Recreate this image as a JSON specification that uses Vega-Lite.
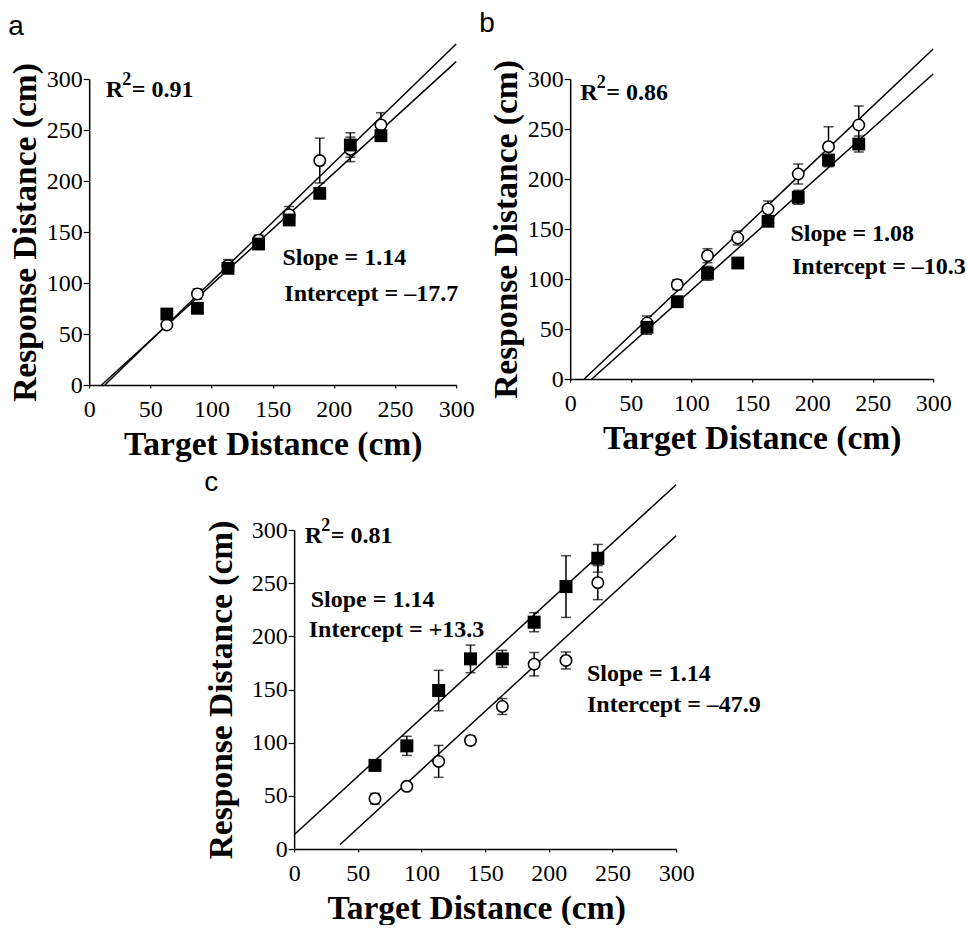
{
  "$schema": "https://vega.github.io/schema/vega-lite/v6.json",
  "background": "white",
  "padding": {"left": 8, "top": 10, "right": 0, "bottom": 0},
  "datasets": {
    "pts": [
      {"panel": "a", "group": "open", "x": 63.5, "y": 58.8, "lo": 55.8, "hi": 61.8},
      {"panel": "a", "group": "open", "x": 88.5, "y": 89.2, "lo": 84.2, "hi": 94.2},
      {"panel": "a", "group": "open", "x": 113.5, "y": 117, "lo": 111, "hi": 123},
      {"panel": "a", "group": "open", "x": 138.5, "y": 142, "lo": 137, "hi": 147},
      {"panel": "a", "group": "open", "x": 163.5, "y": 167, "lo": 159, "hi": 175},
      {"panel": "a", "group": "open", "x": 188.5, "y": 220, "lo": 198, "hi": 242},
      {"panel": "a", "group": "open", "x": 213.5, "y": 231, "lo": 219, "hi": 243},
      {"panel": "a", "group": "open", "x": 238.5, "y": 255, "lo": 243, "hi": 267},
      {"panel": "a", "group": "filled", "x": 63.5, "y": 69.6, "lo": 66.6, "hi": 72.6},
      {"panel": "a", "group": "filled", "x": 88.5, "y": 75.2, "lo": 72.2, "hi": 78.2},
      {"panel": "a", "group": "filled", "x": 113.5, "y": 114.4, "lo": 109.4, "hi": 119.4},
      {"panel": "a", "group": "filled", "x": 138.5, "y": 138.2, "lo": 134.2, "hi": 142.2},
      {"panel": "a", "group": "filled", "x": 163.5, "y": 161.8, "lo": 156.8, "hi": 166.8},
      {"panel": "a", "group": "filled", "x": 188.5, "y": 187.9, "lo": 182.9, "hi": 192.9},
      {"panel": "a", "group": "filled", "x": 213.5, "y": 235.3, "lo": 223.3, "hi": 247.3},
      {"panel": "a", "group": "filled", "x": 238.5, "y": 244.4, "lo": 240.4, "hi": 248.4},
      {"panel": "b", "group": "open", "x": 63.5, "y": 56, "lo": 49, "hi": 63},
      {"panel": "b", "group": "open", "x": 88.5, "y": 94.3, "lo": 89.3, "hi": 99.3},
      {"panel": "b", "group": "open", "x": 113.5, "y": 123.3, "lo": 116.3, "hi": 130.3},
      {"panel": "b", "group": "open", "x": 138.5, "y": 141, "lo": 134, "hi": 148},
      {"panel": "b", "group": "open", "x": 163.5, "y": 170, "lo": 162, "hi": 178},
      {"panel": "b", "group": "open", "x": 188.5, "y": 205, "lo": 195, "hi": 215},
      {"panel": "b", "group": "open", "x": 213.5, "y": 232.3, "lo": 212.3, "hi": 252.3},
      {"panel": "b", "group": "open", "x": 238.5, "y": 254, "lo": 235, "hi": 273},
      {"panel": "b", "group": "filled", "x": 63.5, "y": 51.7, "lo": 44.7, "hi": 58.7},
      {"panel": "b", "group": "filled", "x": 88.5, "y": 77.3, "lo": 72.3, "hi": 82.3},
      {"panel": "b", "group": "filled", "x": 113.5, "y": 105.7, "lo": 98.7, "hi": 112.7},
      {"panel": "b", "group": "filled", "x": 138.5, "y": 116, "lo": 116, "hi": 116},
      {"panel": "b", "group": "filled", "x": 163.5, "y": 157.7, "lo": 152.7, "hi": 162.7},
      {"panel": "b", "group": "filled", "x": 188.5, "y": 181.7, "lo": 174.7, "hi": 188.7},
      {"panel": "b", "group": "filled", "x": 213.5, "y": 219, "lo": 214, "hi": 224},
      {"panel": "b", "group": "filled", "x": 238.5, "y": 235, "lo": 227, "hi": 243},
      {"panel": "c", "group": "open", "x": 63.5, "y": 47.3, "lo": 42.3, "hi": 52.3},
      {"panel": "c", "group": "open", "x": 88.5, "y": 58.9, "lo": 55.9, "hi": 61.9},
      {"panel": "c", "group": "open", "x": 113.5, "y": 82.4, "lo": 67.4, "hi": 97.4},
      {"panel": "c", "group": "open", "x": 138.5, "y": 102.1, "lo": 98.1, "hi": 106.1},
      {"panel": "c", "group": "open", "x": 163.5, "y": 134, "lo": 126.5, "hi": 141.5},
      {"panel": "c", "group": "open", "x": 188.5, "y": 173.8, "lo": 162.8, "hi": 184.8},
      {"panel": "c", "group": "open", "x": 213.5, "y": 177.3, "lo": 169.3, "hi": 185.3},
      {"panel": "c", "group": "open", "x": 238.5, "y": 250.5, "lo": 234.5, "hi": 266.5},
      {"panel": "c", "group": "filled", "x": 63.5, "y": 78.6, "lo": 75.6, "hi": 81.6},
      {"panel": "c", "group": "filled", "x": 88.5, "y": 97, "lo": 88, "hi": 106},
      {"panel": "c", "group": "filled", "x": 113.5, "y": 149, "lo": 130, "hi": 168},
      {"panel": "c", "group": "filled", "x": 138.5, "y": 178.8, "lo": 165.8, "hi": 191.8},
      {"panel": "c", "group": "filled", "x": 163.5, "y": 178.8, "lo": 170.8, "hi": 186.8},
      {"panel": "c", "group": "filled", "x": 188.5, "y": 213.3, "lo": 204.3, "hi": 222.3},
      {"panel": "c", "group": "filled", "x": 213.5, "y": 246.8, "lo": 217.8, "hi": 275.8},
      {"panel": "c", "group": "filled", "x": 238.5, "y": 273.4, "lo": 260.4, "hi": 286.4}
    ],
    "fits": [
      {"panel": "a", "x": 12.8, "y": 0, "x2": 300, "y2": 334.3},
      {"panel": "a", "x": 10.1, "y": 0, "x2": 300, "y2": 317},
      {"panel": "b", "x": 11.6, "y": 0, "x2": 300, "y2": 330},
      {"panel": "b", "x": 17.9, "y": 0, "x2": 300, "y2": 305},
      {"panel": "c", "x": 0, "y": 13.4, "x2": 300, "y2": 342.6},
      {"panel": "c", "x": 35.9, "y": 4, "x2": 300, "y2": 294.6}
    ],
    "notes": [
      {"panel": "a", "kind": "r2", "x": 13.6, "y": 289, "label": "= 0.91"},
      {"panel": "a", "kind": "fit", "x": 158, "y": 125, "label": "Slope = 1.14"},
      {"panel": "a", "kind": "fit", "x": 159.5, "y": 89, "label": "Intercept = –17.7"},
      {"panel": "b", "kind": "r2", "x": 8.3, "y": 286, "label": "= 0.86"},
      {"panel": "b", "kind": "fit", "x": 182, "y": 145, "label": "Slope = 1.08"},
      {"panel": "b", "kind": "fit", "x": 183.3, "y": 111.7, "label": "Intercept = –10.3"},
      {"panel": "c", "kind": "r2", "x": 8.4, "y": 294, "label": "= 0.81"},
      {"panel": "c", "kind": "fit", "x": 13, "y": 234, "label": "Slope = 1.14"},
      {"panel": "c", "kind": "fit", "x": 11.5, "y": 206, "label": "Intercept = +13.3"},
      {"panel": "c", "kind": "fit", "x": 230, "y": 165, "label": "Slope = 1.14"},
      {"panel": "c", "kind": "fit", "x": 230, "y": 135.6, "label": "Intercept = –47.9"}
    ]
  },
  "vconcat": [
    {
      "hconcat": [
        {
          "width": 367, "height": 306,
          "title": {"text": "a", "anchor": "start", "frame": "bounds", "font": "Liberation Sans", "fontSize": 28, "fontWeight": "normal", "color": "black", "baseline": "alphabetic", "offset": -20, "dx": 0},
          "layer": [
            {"data": {"name": "fits"}, "transform": [{"filter": "datum.panel === 'a'"}], "mark": {"type": "rule", "color": "black", "strokeWidth": 1.5},
             "encoding": {
               "x": {"field": "x", "type": "quantitative", "scale": {"domain": [0, 300], "nice": false}, "axis": {"title": "Target Distance (cm)", "values": [0,25,50,75,100,125,150,175,200,225,250,275,300], "labelExpr": "datum.value % 50 === 0 ? datum.label : ''", "tickSize": 3}},
               "y": {"field": "y", "type": "quantitative", "scale": {"domain": [0, 300], "nice": false}, "axis": {"title": "Response Distance (cm)", "titlePadding": 4, "values": [0,25,50,75,100,125,150,175,200,225,250,275,300], "labelExpr": "datum.value % 50 === 0 ? datum.label : ''", "tickSize": {"condition": {"test": "datum.value % 50 === 0", "value": 6}, "value": 3}}},
               "x2": {"field": "x2"}, "y2": {"field": "y2"}}},
            {"data": {"name": "pts"}, "transform": [{"filter": "datum.panel === 'a'"}], "mark": {"type": "errorbar", "color": "black", "thickness": 1.5, "ticks": {"size": 10}},
             "encoding": {"x": {"field": "x", "type": "quantitative", "title": "Target Distance (cm)"}, "y": {"field": "lo", "type": "quantitative", "title": "Response Distance (cm)"}, "y2": {"field": "hi"}}},
            {"data": {"name": "pts"}, "transform": [{"filter": "datum.panel === 'a' && datum.group === 'open'"}], "mark": {"type": "point", "shape": "circle", "filled": false, "fill": "white", "fillOpacity": 1, "stroke": "black", "strokeWidth": 1.6, "size": 130, "opacity": 1},
             "encoding": {"x": {"field": "x", "type": "quantitative", "title": "Target Distance (cm)"}, "y": {"field": "y", "type": "quantitative", "title": "Response Distance (cm)"}}},
            {"data": {"name": "pts"}, "transform": [{"filter": "datum.panel === 'a' && datum.group === 'filled'"}], "mark": {"type": "point", "shape": "square", "filled": true, "color": "black", "size": 165, "opacity": 1},
             "encoding": {"x": {"field": "x", "type": "quantitative", "title": "Target Distance (cm)"}, "y": {"field": "y", "type": "quantitative", "title": "Response Distance (cm)"}}},
            {"data": {"name": "notes"}, "transform": [{"filter": "datum.panel === 'a' && datum.kind === 'r2'"}], "mark": {"type": "text", "text": "R", "align": "left", "baseline": "middle", "font": "Liberation Serif", "fontWeight": "bold", "fontSize": 24, "color": "black"},
             "encoding": {"x": {"field": "x", "type": "quantitative", "title": "Target Distance (cm)"}, "y": {"field": "y", "type": "quantitative", "title": "Response Distance (cm)"}}},
            {"data": {"name": "notes"}, "transform": [{"filter": "datum.panel === 'a' && datum.kind === 'r2'"}], "mark": {"type": "text", "text": "2", "align": "left", "baseline": "middle", "dx": 16.5, "dy": -10, "font": "Liberation Serif", "fontWeight": "bold", "fontSize": 18, "color": "black"},
             "encoding": {"x": {"field": "x", "type": "quantitative", "title": "Target Distance (cm)"}, "y": {"field": "y", "type": "quantitative", "title": "Response Distance (cm)"}}},
            {"data": {"name": "notes"}, "transform": [{"filter": "datum.panel === 'a' && datum.kind === 'r2'"}], "mark": {"type": "text", "align": "left", "baseline": "middle", "dx": 26, "font": "Liberation Serif", "fontWeight": "bold", "fontSize": 24, "color": "black"},
             "encoding": {"x": {"field": "x", "type": "quantitative", "title": "Target Distance (cm)"}, "y": {"field": "y", "type": "quantitative", "title": "Response Distance (cm)"}, "text": {"field": "label"}}},
            {"data": {"name": "notes"}, "transform": [{"filter": "datum.panel === 'a' && datum.kind === 'fit'"}], "mark": {"type": "text", "align": "left", "baseline": "middle", "font": "Liberation Serif", "fontWeight": "bold", "fontSize": 24, "color": "black"},
             "encoding": {"x": {"field": "x", "type": "quantitative", "title": "Target Distance (cm)"}, "y": {"field": "y", "type": "quantitative", "title": "Response Distance (cm)"}, "text": {"field": "label"}}}
          ]
        },
        {
          "width": 363, "height": 300,
          "title": {"text": "b", "anchor": "start", "frame": "bounds", "font": "Liberation Sans", "fontSize": 28, "fontWeight": "normal", "color": "black", "baseline": "alphabetic", "offset": -12, "dx": -10},
          "layer": [
            {"data": {"name": "fits"}, "transform": [{"filter": "datum.panel === 'b'"}], "mark": {"type": "rule", "color": "black", "strokeWidth": 1.5},
             "encoding": {
               "x": {"field": "x", "type": "quantitative", "scale": {"domain": [0, 300], "nice": false}, "axis": {"title": "Target Distance (cm)", "values": [0,25,50,75,100,125,150,175,200,225,250,275,300], "labelExpr": "datum.value % 50 === 0 ? datum.label : ''", "tickSize": 3}},
               "y": {"field": "y", "type": "quantitative", "scale": {"domain": [0, 300], "nice": false}, "axis": {"title": "Response Distance (cm)", "titlePadding": 4, "values": [0,25,50,75,100,125,150,175,200,225,250,275,300], "labelExpr": "datum.value % 50 === 0 ? datum.label : ''", "tickSize": {"condition": {"test": "datum.value % 50 === 0", "value": 6}, "value": 3}}},
               "x2": {"field": "x2"}, "y2": {"field": "y2"}}},
            {"data": {"name": "pts"}, "transform": [{"filter": "datum.panel === 'b'"}], "mark": {"type": "errorbar", "color": "black", "thickness": 1.5, "ticks": {"size": 10}},
             "encoding": {"x": {"field": "x", "type": "quantitative", "title": "Target Distance (cm)"}, "y": {"field": "lo", "type": "quantitative", "title": "Response Distance (cm)"}, "y2": {"field": "hi"}}},
            {"data": {"name": "pts"}, "transform": [{"filter": "datum.panel === 'b' && datum.group === 'open'"}], "mark": {"type": "point", "shape": "circle", "filled": false, "fill": "white", "fillOpacity": 1, "stroke": "black", "strokeWidth": 1.6, "size": 130, "opacity": 1},
             "encoding": {"x": {"field": "x", "type": "quantitative", "title": "Target Distance (cm)"}, "y": {"field": "y", "type": "quantitative", "title": "Response Distance (cm)"}}},
            {"data": {"name": "pts"}, "transform": [{"filter": "datum.panel === 'b' && datum.group === 'filled'"}], "mark": {"type": "point", "shape": "square", "filled": true, "color": "black", "size": 165, "opacity": 1},
             "encoding": {"x": {"field": "x", "type": "quantitative", "title": "Target Distance (cm)"}, "y": {"field": "y", "type": "quantitative", "title": "Response Distance (cm)"}}},
            {"data": {"name": "notes"}, "transform": [{"filter": "datum.panel === 'b' && datum.kind === 'r2'"}], "mark": {"type": "text", "text": "R", "align": "left", "baseline": "middle", "font": "Liberation Serif", "fontWeight": "bold", "fontSize": 24, "color": "black"},
             "encoding": {"x": {"field": "x", "type": "quantitative", "title": "Target Distance (cm)"}, "y": {"field": "y", "type": "quantitative", "title": "Response Distance (cm)"}}},
            {"data": {"name": "notes"}, "transform": [{"filter": "datum.panel === 'b' && datum.kind === 'r2'"}], "mark": {"type": "text", "text": "2", "align": "left", "baseline": "middle", "dx": 16.5, "dy": -10, "font": "Liberation Serif", "fontWeight": "bold", "fontSize": 18, "color": "black"},
             "encoding": {"x": {"field": "x", "type": "quantitative", "title": "Target Distance (cm)"}, "y": {"field": "y", "type": "quantitative", "title": "Response Distance (cm)"}}},
            {"data": {"name": "notes"}, "transform": [{"filter": "datum.panel === 'b' && datum.kind === 'r2'"}], "mark": {"type": "text", "align": "left", "baseline": "middle", "dx": 26, "font": "Liberation Serif", "fontWeight": "bold", "fontSize": 24, "color": "black"},
             "encoding": {"x": {"field": "x", "type": "quantitative", "title": "Target Distance (cm)"}, "y": {"field": "y", "type": "quantitative", "title": "Response Distance (cm)"}, "text": {"field": "label"}}},
            {"data": {"name": "notes"}, "transform": [{"filter": "datum.panel === 'b' && datum.kind === 'fit'"}], "mark": {"type": "text", "align": "left", "baseline": "middle", "font": "Liberation Serif", "fontWeight": "bold", "fontSize": 24, "color": "black"},
             "encoding": {"x": {"field": "x", "type": "quantitative", "title": "Target Distance (cm)"}, "y": {"field": "y", "type": "quantitative", "title": "Response Distance (cm)"}, "text": {"field": "label"}}}
          ]
        }
      ],
      "spacing": 114,
      "bounds": "flush"
    },
    {
      "width": 382, "height": 319,
      "title": {"text": "c", "anchor": "start", "frame": "bounds", "font": "Liberation Sans", "fontSize": 28, "fontWeight": "normal", "color": "black", "baseline": "alphabetic", "offset": -35, "dx": 0},
      "layer": [
        {"data": {"name": "fits"}, "transform": [{"filter": "datum.panel === 'c'"}], "mark": {"type": "rule", "color": "black", "strokeWidth": 1.5},
         "encoding": {
           "x": {"field": "x", "type": "quantitative", "scale": {"domain": [0, 300], "nice": false}, "axis": {"title": "Target Distance (cm)", "titleX": 182, "values": [0,25,50,75,100,125,150,175,200,225,250,275,300], "labelExpr": "datum.value % 50 === 0 ? datum.label : ''", "tickSize": 3}},
           "y": {"field": "y", "type": "quantitative", "scale": {"domain": [0, 300], "nice": false}, "axis": {"title": "Response Distance (cm)", "titlePadding": 13, "values": [0,25,50,75,100,125,150,175,200,225,250,275,300], "labelExpr": "datum.value % 50 === 0 ? datum.label : ''", "tickSize": {"condition": {"test": "datum.value % 50 === 0", "value": 6}, "value": 3}}},
           "x2": {"field": "x2"}, "y2": {"field": "y2"}}},
        {"data": {"name": "pts"}, "transform": [{"filter": "datum.panel === 'c'"}], "mark": {"type": "errorbar", "color": "black", "thickness": 1.5, "ticks": {"size": 10}},
         "encoding": {"x": {"field": "x", "type": "quantitative", "title": "Target Distance (cm)"}, "y": {"field": "lo", "type": "quantitative", "title": "Response Distance (cm)"}, "y2": {"field": "hi"}}},
        {"data": {"name": "pts"}, "transform": [{"filter": "datum.panel === 'c' && datum.group === 'open'"}], "mark": {"type": "point", "shape": "circle", "filled": false, "fill": "white", "fillOpacity": 1, "stroke": "black", "strokeWidth": 1.6, "size": 130, "opacity": 1},
         "encoding": {"x": {"field": "x", "type": "quantitative", "title": "Target Distance (cm)"}, "y": {"field": "y", "type": "quantitative", "title": "Response Distance (cm)"}}},
        {"data": {"name": "pts"}, "transform": [{"filter": "datum.panel === 'c' && datum.group === 'filled'"}], "mark": {"type": "point", "shape": "square", "filled": true, "color": "black", "size": 170, "opacity": 1},
         "encoding": {"x": {"field": "x", "type": "quantitative", "title": "Target Distance (cm)"}, "y": {"field": "y", "type": "quantitative", "title": "Response Distance (cm)"}}},
        {"data": {"name": "notes"}, "transform": [{"filter": "datum.panel === 'c' && datum.kind === 'r2'"}], "mark": {"type": "text", "text": "R", "align": "left", "baseline": "middle", "font": "Liberation Serif", "fontWeight": "bold", "fontSize": 24, "color": "black"},
         "encoding": {"x": {"field": "x", "type": "quantitative", "title": "Target Distance (cm)"}, "y": {"field": "y", "type": "quantitative", "title": "Response Distance (cm)"}}},
        {"data": {"name": "notes"}, "transform": [{"filter": "datum.panel === 'c' && datum.kind === 'r2'"}], "mark": {"type": "text", "text": "2", "align": "left", "baseline": "middle", "dx": 16.5, "dy": -10, "font": "Liberation Serif", "fontWeight": "bold", "fontSize": 18, "color": "black"},
         "encoding": {"x": {"field": "x", "type": "quantitative", "title": "Target Distance (cm)"}, "y": {"field": "y", "type": "quantitative", "title": "Response Distance (cm)"}}},
        {"data": {"name": "notes"}, "transform": [{"filter": "datum.panel === 'c' && datum.kind === 'r2'"}], "mark": {"type": "text", "align": "left", "baseline": "middle", "dx": 26, "font": "Liberation Serif", "fontWeight": "bold", "fontSize": 24, "color": "black"},
         "encoding": {"x": {"field": "x", "type": "quantitative", "title": "Target Distance (cm)"}, "y": {"field": "y", "type": "quantitative", "title": "Response Distance (cm)"}, "text": {"field": "label"}}},
        {"data": {"name": "notes"}, "transform": [{"filter": "datum.panel === 'c' && datum.kind === 'fit'"}], "mark": {"type": "text", "align": "left", "baseline": "middle", "font": "Liberation Serif", "fontWeight": "bold", "fontSize": 24, "color": "black"},
         "encoding": {"x": {"field": "x", "type": "quantitative", "title": "Target Distance (cm)"}, "y": {"field": "y", "type": "quantitative", "title": "Response Distance (cm)"}, "text": {"field": "label"}}}
      ]
    }
  ],
  "spacing": 7,
  "bounds": "full",
  "center": true,
  "config": {
    "view": {"stroke": null},
    "axis": {"domainColor": "black", "domainWidth": 1.5, "tickColor": "black", "tickWidth": 1.2, "labelColor": "black", "labelFont": "Liberation Serif", "labelFontSize": 24, "titleFont": "Liberation Serif", "titleFontSize": 33.5, "titleFontWeight": "bold", "titleColor": "black", "grid": false, "labelFlush": false, "labelOverlap": false},
    "axisY": {"labelPadding": 1},
    "axisX": {"labelPadding": 9, "titlePadding": 7}
  }
}
